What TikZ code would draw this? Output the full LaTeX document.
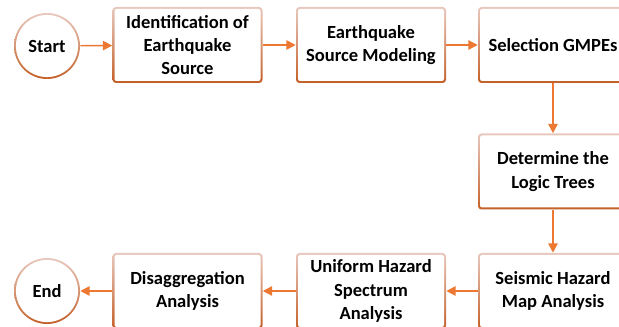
\documentclass[tikz,border=0pt]{standalone}
\usepackage{fontspec}
\setmainfont{Carlito}
\usetikzlibrary{arrows.meta}
\definecolor{bordtop}{RGB}{232,200,190}
\definecolor{bordbot}{RGB}{196,96,40}
\definecolor{arrc}{RGB}{236,120,50}
\tikzset{
  gbox/.style={rounded corners=2.5pt, minimum width=112.5pt, minimum height=57pt,
    align=center, font=\fontsize{13.9}{17.5}\selectfont\bfseries, inner sep=0pt,
    path picture={
      \shade[top color=bordtop, bottom color=bordbot]
        (path picture bounding box.south west) rectangle (path picture bounding box.north east);
      \fill[white, rounded corners=1.6pt]
        ([shift={(1.5pt,1.5pt)}]path picture bounding box.south west) rectangle
        ([shift={(-1.5pt,-1.5pt)}]path picture bounding box.north east);
    }},
  gcirc/.style={circle, minimum size=49.5pt, inner sep=0pt,
    font=\fontsize{13.9}{17.5}\selectfont\bfseries,
    path picture={
      \shade[top color=bordtop, bottom color=bordbot]
        (path picture bounding box.south west) rectangle (path picture bounding box.north east);
      \fill[white] (path picture bounding box.center) circle (23.3pt);
    }},
  flow/.style={draw=arrc, line width=1.1pt, -{Triangle[length=7pt,width=7pt]}}
}
\begin{document}
\begin{tikzpicture}[x=0.75pt,y=0.75pt]
\useasboundingbox (0,0) rectangle (619,-327);
\node[gcirc] (start) at (47,-46) {Start};
\node[gbox] (ident) at (187.5,-45) {Identification of\\Earthquake\\Source};
\node[gbox] (model) at (371,-45) {Earthquake\\Source Modeling};
\node[gbox] (gmpe) at (553,-45) {Selection GMPEs};
\node[gbox] (logic) at (553,-171.5) {Determine the\\Logic Trees};
\node[gbox] (shma) at (553,-291) {Seismic Hazard\\Map Analysis};
\node[gbox] (uhs) at (371,-291) {Uniform Hazard\\Spectrum\\Analysis};
\node[gbox] (dis) at (187.5,-291) {Disaggregation\\Analysis};
\node[gcirc] (end) at (47,-291) {End};
\draw[flow] (start) -- (ident);
\draw[flow] (ident) -- (model);
\draw[flow] (model) -- (gmpe);
\draw[flow] (gmpe) -- (logic);
\draw[flow] (logic) -- (shma);
\draw[flow] (shma) -- (uhs);
\draw[flow] (uhs) -- (dis);
\draw[flow] (dis) -- (end);
\end{tikzpicture}
\end{document}
